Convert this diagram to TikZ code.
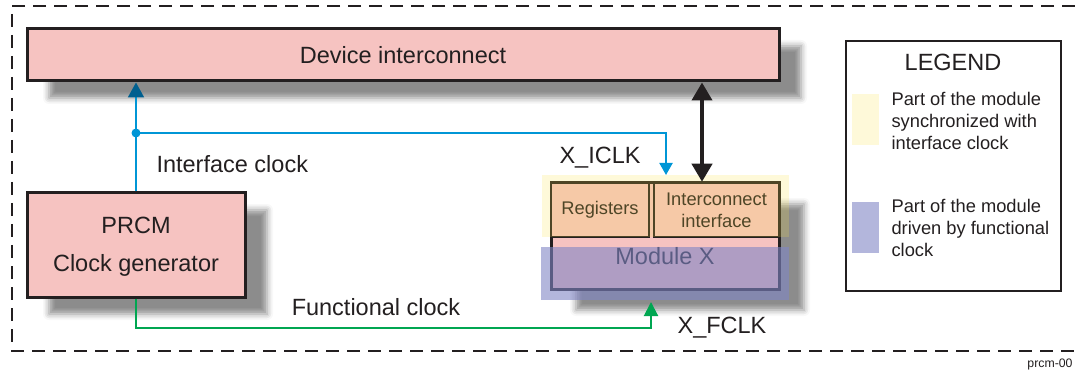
\documentclass[tikz,border=0pt]{standalone}
\usepackage{fontspec}
\setmainfont{Liberation Sans}
\usetikzlibrary{arrows.meta,shadows.blur}

\definecolor{inkdark}{HTML}{231F20}
\definecolor{boxpink}{HTML}{F6C3C1}
\definecolor{iclkblue}{HTML}{0096D6}
\definecolor{iclkdark}{HTML}{005F8F}
\definecolor{fclkgreen}{HTML}{00A651}
\definecolor{syncyellow}{HTML}{FAE141}
\definecolor{funcpurple}{HTML}{8085C5}

\tikzset{
  bigtext/.style={font=\fontsize{23.5}{28}\selectfont, text=inkdark},
  smalltext/.style={font=\fontsize{18.3}{21.7}\selectfont, text=inkdark},
  hwbox/.style={draw=inkdark, line width=3pt, fill=boxpink, inner sep=0pt},
  hwshadow/.style={blur shadow={shadow xshift=22pt, shadow yshift=-17pt, shadow blur radius=6pt, shadow opacity=45}},
  subbox/.style={draw=inkdark, line width=2.5pt, fill=boxpink, inner sep=0pt, minimum height=54pt}
}

\begin{document}
\begin{tikzpicture}[x=1pt, y=-1pt]
  \useasboundingbox (0,0) rectangle (1075,371);

  % Outer dashed frame (open on the right)
  \draw[inkdark, line width=2pt, dash pattern=on 13pt off 8pt] (1075,6) -| (12,351) -- (1075,351);
  \node[font=\fontsize{12.3}{14}\selectfont, text=inkdark] (tag) at (1050,364) {prcm-00};

  % Main blocks
  \node[hwbox, hwshadow, minimum width=752pt, minimum height=52pt] (dev) at (403,55) {};
  \node[bigtext] (devlbl) at (403,55) {Device interconnect};

  \node[hwbox, hwshadow, minimum width=218pt, minimum height=104pt] (prcm) at (136,245) {};
  \node[bigtext] (prcmlbl) at (136,225) {PRCM};
  \node[bigtext] (clkgen) at (136,265) {Clock generator};

  % Module X
  \node[hwbox, blur shadow={shadow xshift=25pt, shadow yshift=-21pt, shadow blur radius=6pt, shadow opacity=45}, minimum width=228pt, minimum height=106pt] (module) at (665,236) {};
  \node[subbox, minimum width=98pt] (regs) at (600,210) {};
  \node[subbox, minimum width=125pt] (ifc) at (716.5,210) {};
  \node[smalltext] (regslbl) at (regs) {Registers};
  \node[smalltext, align=center] (ifclbl) at (ifc) {Interconnect\\interface};
  \node[bigtext] (modlbl) at (665,256) {Module X};

  % Clock domain overlays
  \fill[syncyellow, fill opacity=0.2] (542,175) rectangle (789,237);
  \fill[funcpurple, fill opacity=0.6] (541,247) rectangle (789,300);

  % Interface clock
  \coordinate (split) at (136,133);
  \coordinate (iclkin) at (666,175);
  \draw[iclkblue, line width=2pt, -{Triangle[length=15pt, width=16pt, color=iclkdark]}] (prcm.north) -- (prcm.north |- dev.south);
  \draw[iclkblue, line width=2pt, -{Triangle[length=12pt, width=13pt]}] (split) -| (iclkin);
  \fill[iclkblue] (split) circle (4.5);
  \node[bigtext, anchor=west] (ifclk) at (153,164) {Interface clock};
  \node[bigtext] (xiclk) at (600,158) {X\_ICLK};

  % Interconnect bus
  \coordinate (bus) at (702,0);
  \draw[inkdark, line width=4pt, {Triangle[length=18pt, width=20pt]}-{Triangle[length=18pt, width=20pt]}] (bus |- dev.south) -- (bus |- ifc.north);

  % Functional clock
  \coordinate (fclkin) at (651,302);
  \coordinate (fbend) at (651,328);
  \draw[fclkgreen, line width=2pt, -{Triangle[length=14pt, width=14pt]}] (prcm.south) |- (fbend) -- (fclkin);
  \node[bigtext] (fclk) at (376,307) {Functional clock};
  \node[bigtext] (xfclk) at (722,328) {X\_FCLK};

  % Legend
  \node[draw=inkdark, line width=2pt, minimum width=215pt, minimum height=250pt, inner sep=0pt] (legend) at (953.5,166) {};
  \node[bigtext] (legtitle) at (953,62) {LEGEND};
  \fill[syncyellow, fill opacity=0.2] (852,94) rectangle (879,145);
  \node[smalltext, align=left, anchor=west] (legsync) at (888,121) {Part of the module\\synchronized with\\interface clock};
  \fill[funcpurple, fill opacity=0.6] (852,202) rectangle (879,253);
  \node[smalltext, align=left, anchor=west] (legfunc) at (888,228) {Part of the module\\driven by functional\\clock};
\end{tikzpicture}
\end{document}
